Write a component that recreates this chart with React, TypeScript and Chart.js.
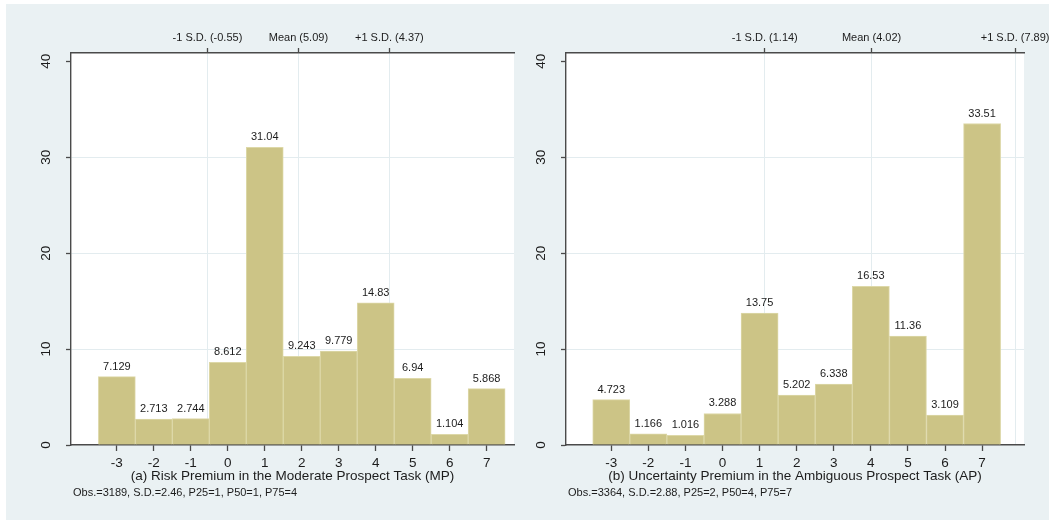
import React, { useEffect, useRef } from "react";
import { Chart, registerables } from "chart.js";

Chart.register(...registerables);

// Premium values (bins of width 1, centred on the integers)
const PREMIUM = [-3, -2, -1, 0, 1, 2, 3, 4, 5, 6, 7];
// Percent of respondents per bin
const MP_PERCENT = [7.129, 2.713, 2.744, 8.612, 31.04, 9.243, 9.779, 14.83, 6.94, 1.104, 5.868];
const AP_PERCENT = [4.723, 1.166, 1.016, 3.288, 13.75, 5.202, 6.338, 16.53, 11.36, 3.109, 33.51];

const Y_TICKS = [0, 10, 20, 30, 40];

// Reference lines on the top axis
const MP_REF_AT = [-0.55, 1.91, 4.37];
const MP_REF_LABELS = ["-1 S.D. (-0.55)", "Mean (5.09)", "+1 S.D. (4.37)"];
const AP_REF_AT = [1.14, 4.02, 7.89];
const AP_REF_LABELS = ["-1 S.D. (1.14)", "Mean (4.02)", "+1 S.D. (7.89)"];

const MP_TITLE = "(a) Risk Premium in the Moderate Prospect Task (MP)";
const AP_TITLE = "(b) Uncertainty Premium in the Ambiguous Prospect Task (AP)";
const MP_NOTE = "Obs.=3189, S.D.=2.46, P25=1, P50=1, P75=4";
const AP_NOTE = "Obs.=3364, S.D.=2.88, P25=2, P50=4, P75=7";

const FONT = '"Liberation Sans", Arial, Helvetica, sans-serif';
const TEXT = "#1c1c1c";
const AXIS = "#4a4a4a";
const GRID = "#e3ecef";
const BAR = "#ccc486";
const BAR_EDGE = "#ddd8a8";
const PAGE_BG = "#eaf1f3";

type PanelProps = {
  values: number[];
  refAt: number[];
  refLabels: string[];
  title: string;
  note: string;
  xMin: number;
  xMax: number;
  left: number;
  width: number;
  axisWidth: number;
  padRight: number;
};

const HEIGHT = 522;
const PLOT_TOP = 53;
const PLOT_BOTTOM = 445;
const Y_MAX = 40.86;

function Panel(p: PanelProps) {
  const ref = useRef<HTMLCanvasElement | null>(null);

  useEffect(() => {
    if (!ref.current) return;

    const plotBackground = {
      id: "plotBackground",
      beforeDraw(chart: any) {
        const { ctx, chartArea } = chart;
        ctx.save();
        ctx.fillStyle = "#ffffff";
        ctx.fillRect(chartArea.left, chartArea.top, chartArea.right - chartArea.left, chartArea.bottom - chartArea.top);
        ctx.restore();
      },
    };

    const barValues = {
      id: "barValues",
      afterDatasetsDraw(chart: any) {
        const { ctx } = chart;
        const meta = chart.getDatasetMeta(0);
        ctx.save();
        ctx.font = `11px ${FONT}`;
        ctx.fillStyle = TEXT;
        ctx.textAlign = "center";
        ctx.textBaseline = "middle";
        meta.data.forEach((el: any, i: number) => {
          ctx.fillText(String(p.values[i]), el.x, el.y - 10);
        });
        ctx.restore();
      },
    };

    const extras = {
      id: "extras",
      afterDraw(chart: any) {
        const { ctx, chartArea } = chart;
        const yScale = chart.scales.y;
        ctx.save();
        // vertical y tick labels
        ctx.font = `13.5px ${FONT}`;
        ctx.fillStyle = TEXT;
        ctx.textAlign = "center";
        ctx.textBaseline = "middle";
        Y_TICKS.forEach((v) => {
          const y = yScale.getPixelForValue(v);
          ctx.save();
          ctx.translate(chartArea.left - 25, y);
          ctx.rotate(-Math.PI / 2);
          ctx.fillText(String(v), 0, 0);
          ctx.restore();
        });
        // summary note
        ctx.font = `11px ${FONT}`;
        ctx.textAlign = "left";
        ctx.fillText(p.note, chartArea.left + 2, 493);
        ctx.restore();
      },
    };

    const chart = new Chart(ref.current, {
      type: "bar",
      data: {
        datasets: [
          {
            data: PREMIUM.map((x, i) => ({ x, y: p.values[i] })),
            backgroundColor: BAR,
            borderColor: BAR_EDGE,
            borderWidth: 1,
            barPercentage: 1,
            categoryPercentage: 1,
            xAxisID: "x",
            yAxisID: "y",
          },
        ],
      },
      options: {
        responsive: false,
        animation: false,
        events: [],
        layout: { padding: { left: 0, right: p.padRight, top: 0, bottom: 0 }, autoPadding: false },
        plugins: {
          legend: { display: false },
          tooltip: { enabled: false },
          title: { display: false },
        },
        scales: {
          x: {
            type: "linear",
            position: "bottom",
            offset: false,
            min: p.xMin,
            max: p.xMax,
            afterBuildTicks: (s: any) => {
              s.ticks = PREMIUM.map((v) => ({ value: v }));
            },
            afterFit: (s: any) => {
              s.height = HEIGHT - PLOT_BOTTOM;
              s.paddingLeft = 0;
              s.paddingRight = 0;
            },
            ticks: {
              autoSkip: false,
              maxRotation: 0,
              padding: 4,
              color: TEXT,
              font: { family: FONT, size: 13.5 },
              callback: (v: any) => String(v),
            },
            grid: {
              offset: false,
              drawOnChartArea: false,
              drawTicks: true,
              tickLength: 6,
              tickColor: AXIS,
              tickWidth: 1.3,
            },
            border: { display: true, color: AXIS, width: 1.4 },
            title: {
              display: true,
              text: p.title,
              color: TEXT,
              font: { family: FONT, size: 13.5 },
              padding: { top: 0, bottom: 38 },
            },
          },
          top: {
            type: "linear",
            position: "top",
            offset: false,
            min: p.xMin,
            max: p.xMax,
            afterBuildTicks: (s: any) => {
              s.ticks = p.refAt.map((v) => ({ value: v }));
            },
            afterFit: (s: any) => {
              s.height = PLOT_TOP;
              s.paddingLeft = 0;
              s.paddingRight = 0;
            },
            ticks: {
              autoSkip: false,
              maxRotation: 0,
              padding: 3,
              color: TEXT,
              font: { family: FONT, size: 11 },
              callback: (_v: any, i: number) => p.refLabels[i],
            },
            grid: {
              offset: false,
              drawOnChartArea: true,
              color: GRID,
              lineWidth: 1,
              drawTicks: true,
              tickLength: 5,
              tickColor: AXIS,
              tickWidth: 1.3,
            },
            border: { display: true, color: AXIS, width: 1.4 },
          },
          y: {
            type: "linear",
            position: "left",
            min: 0,
            max: Y_MAX,
            afterBuildTicks: (s: any) => {
              s.ticks = Y_TICKS.map((v) => ({ value: v }));
            },
            afterFit: (s: any) => {
              s.width = p.axisWidth;
              s.paddingTop = 0;
              s.paddingBottom = 0;
            },
            ticks: { display: false },
            grid: {
              drawOnChartArea: true,
              color: (c: any) => (c.tick && c.tick.value > 0 && c.tick.value < 40 ? GRID : "rgba(0,0,0,0)"),
              lineWidth: 1,
              drawTicks: true,
              tickLength: 5,
              tickColor: AXIS,
              tickWidth: 1.3,
            },
            border: { display: true, color: AXIS, width: 1.4 },
          },
        },
      } as any,
      plugins: [plotBackground, barValues, extras],
    });

    return () => chart.destroy();
  }, []);

  return (
    <canvas
      ref={ref}
      width={p.width}
      height={HEIGHT}
      style={{ position: "absolute", left: p.left, top: 0, width: p.width, height: HEIGHT }}
    />
  );
}

export default function App() {
  return (
    <div style={{ position: "fixed", left: 0, top: 0, width: 1049, height: 522, background: "#ffffff", overflow: "hidden" }}>
      <div style={{ position: "absolute", left: 6, top: 4, right: 0, bottom: 2, background: PAGE_BG }} />
      <Panel
        values={MP_PERCENT}
        refAt={MP_REF_AT}
        refLabels={MP_REF_LABELS}
        title={MP_TITLE}
        note={MP_NOTE}
        xMin={-4.24}
        xMax={7.74}
        left={0}
        width={520}
        axisWidth={71}
        padRight={6}
      />
      <Panel
        values={AP_PERCENT}
        refAt={AP_REF_AT}
        refLabels={AP_REF_LABELS}
        title={AP_TITLE}
        note={AP_NOTE}
        xMin={-4.22}
        xMax={8.13}
        left={520}
        width={529}
        axisWidth={46}
        padRight={25}
      />
    </div>
  );
}
